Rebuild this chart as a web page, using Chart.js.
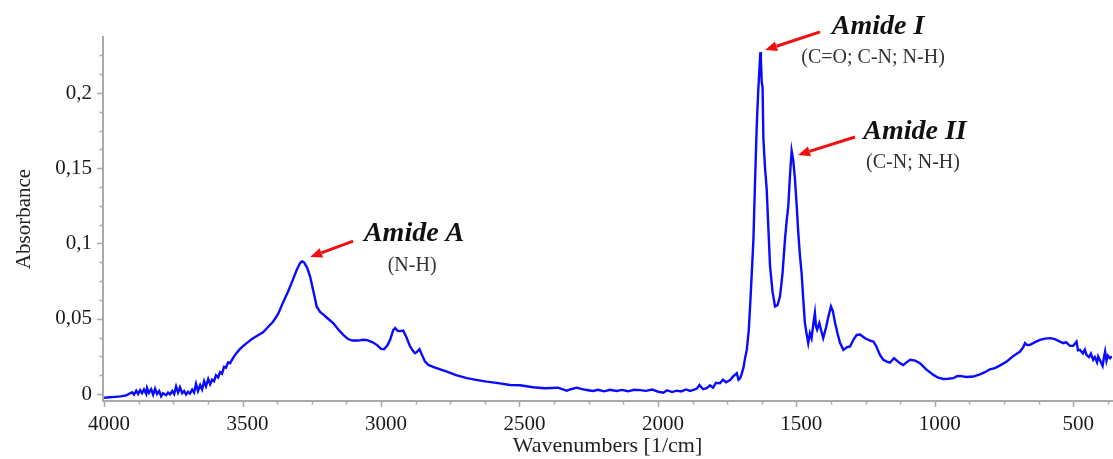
<!DOCTYPE html>
<html>
<head>
<meta charset="utf-8">
<script src="https://cdn.jsdelivr.net/npm/chart.js@4.4.0/dist/chart.umd.min.js"></script>
<style>
  html, body { margin: 0; padding: 0; background: #fff; }
  #wrap { width: 1113px; height: 459px; }
</style>
</head>
<body>
<div id="wrap"><canvas id="ftir" width="1113" height="459"></canvas></div>
<script>
// spectrum (wavenumber in 1/cm, absorbance)
const wavenumbers = [
  4000, 3980, 3960, 3940, 3920, 3906, 3899, 3892, 3884, 3877, 3870, 3863, 3856, 3848, 3845, 3838,
  3830, 3823, 3816, 3809, 3801, 3794, 3787, 3776, 3769, 3762, 3754, 3747, 3740, 3733, 3726, 3718,
  3711, 3704, 3697, 3690, 3682, 3675, 3668, 3661, 3653, 3646, 3639, 3632, 3624, 3617, 3610, 3603,
  3596, 3588, 3581, 3574, 3567, 3560, 3552, 3545, 3534, 3523, 3509, 3494, 3484, 3466, 3444, 3426,
  3408, 3390, 3372, 3354, 3336, 3318, 3303, 3292, 3285, 3278, 3267, 3256, 3245, 3232, 3220, 3208,
  3191, 3172, 3155, 3136, 3119, 3104, 3083, 3065, 3050, 3032, 3014, 3000, 2989, 2978, 2967, 2956,
  2949, 2940, 2931, 2920, 2909, 2895, 2884, 2877, 2870, 2861, 2852, 2841, 2829, 2805, 2762, 2729,
  2690, 2657, 2618, 2577, 2534, 2498, 2451, 2408, 2361, 2343, 2329, 2317, 2293, 2274, 2252, 2234,
  2216, 2194, 2173, 2149, 2129, 2108, 2086, 2064, 2043, 2021, 1999, 1980, 1967, 1949, 1932, 1916,
  1898, 1884, 1872, 1859, 1850, 1837, 1824, 1812, 1801, 1790, 1776, 1765, 1754, 1739, 1729, 1715,
  1709, 1703, 1698, 1691, 1685, 1679, 1672, 1667, 1661, 1655, 1649, 1643, 1638, 1634, 1630, 1628,
  1625, 1622, 1619, 1613, 1607, 1601, 1595, 1586, 1577, 1568, 1559, 1550, 1541, 1535, 1529, 1523,
  1517, 1511, 1505, 1499, 1493, 1487, 1481, 1475, 1469, 1463, 1457, 1451, 1445, 1439, 1433, 1429,
  1425, 1417, 1410, 1403, 1393, 1384, 1375, 1368, 1360, 1351, 1342, 1330, 1318, 1306, 1294, 1282,
  1270, 1252, 1234, 1222, 1212, 1198, 1186, 1173, 1162, 1147, 1136, 1126, 1114, 1102, 1089, 1071,
  1053, 1032, 1005, 988, 969, 952, 933, 920, 909, 887, 861, 837, 819, 801, 783, 764,
  740, 718, 692, 681, 674, 667, 656, 638, 620, 602, 584, 566, 548, 536, 526, 512,
  500, 488, 483, 476, 465, 458, 452, 443, 436, 428, 422, 414, 410, 403, 394, 389,
  385, 380, 375, 367, 360
];
const absorbance = [
  -0.0025, -0.0022, -0.0019, -0.0016, -0.0009, 0.0005, 0.0011, -0.0004, 0.0022, 0.0000, 0.0026, 0.0006, 0.0030, 0.0000, 0.0040, 0.0008,
  0.0032, -0.0005, 0.0035, 0.0000, 0.0020, -0.0015, 0.0005, -0.0008, 0.0010, -0.0002, 0.0020, 0.0000, 0.0050, 0.0010, 0.0045, 0.0005,
  0.0020, -0.0003, 0.0015, 0.0003, 0.0030, 0.0010, 0.0068, 0.0020, 0.0060, 0.0030, 0.0085, 0.0050, 0.0100, 0.0065, 0.0095, 0.0085,
  0.0125, 0.0110, 0.0145, 0.0135, 0.0180, 0.0175, 0.0210, 0.0205, 0.0240, 0.0270, 0.0300, 0.0325, 0.0340, 0.0365, 0.0390, 0.0410,
  0.0445, 0.0480, 0.0530, 0.0607, 0.0680, 0.0760, 0.0830, 0.0870, 0.0882, 0.0875, 0.0840, 0.0780, 0.0690, 0.0580, 0.0545, 0.0527,
  0.0500, 0.0470, 0.0430, 0.0393, 0.0365, 0.0355, 0.0355, 0.0360, 0.0358, 0.0345, 0.0325, 0.0300, 0.0298, 0.0320, 0.0360, 0.0425,
  0.0438, 0.0420, 0.0418, 0.0422, 0.0380, 0.0316, 0.0285, 0.0271, 0.0280, 0.0298, 0.0260, 0.0215, 0.0193, 0.0175, 0.0149, 0.0125,
  0.0105, 0.0094, 0.0082, 0.0072, 0.0060, 0.0058, 0.0045, 0.0038, 0.0042, 0.0030, 0.0022, 0.0030, 0.0042, 0.0032, 0.0025, 0.0020,
  0.0028, 0.0018, 0.0028, 0.0020, 0.0027, 0.0018, 0.0028, 0.0026, 0.0021, 0.0030, 0.0015, 0.0009, 0.0025, 0.0013, 0.0022, 0.0017,
  0.0030, 0.0020, 0.0027, 0.0036, 0.0060, 0.0032, 0.0038, 0.0058, 0.0042, 0.0075, 0.0071, 0.0095, 0.0078, 0.0093, 0.0115, 0.0138,
  0.0095, 0.0105, 0.0130, 0.0175, 0.0240, 0.0293, 0.0420, 0.0582, 0.0800, 0.1027, 0.1420, 0.1782, 0.2000, 0.2138, 0.2271, 0.2220,
  0.2071, 0.2040, 0.1693, 0.1500, 0.1360, 0.1100, 0.0849, 0.0680, 0.0582, 0.0590, 0.0649, 0.0800, 0.1027, 0.1150, 0.1249, 0.1450,
  0.1616, 0.1550, 0.1427, 0.1260, 0.1071, 0.0920, 0.0804, 0.0630, 0.0471, 0.0400, 0.0338, 0.0404, 0.0370, 0.0460, 0.0538, 0.0450,
  0.0427, 0.0471, 0.0420, 0.0371, 0.0440, 0.0516, 0.0582, 0.0550, 0.0471, 0.0400, 0.0338, 0.0293, 0.0310, 0.0316, 0.0360, 0.0393,
  0.0395, 0.0370, 0.0355, 0.0349, 0.0320, 0.0260, 0.0227, 0.0215, 0.0209, 0.0238, 0.0220, 0.0205, 0.0193, 0.0210, 0.0227, 0.0222,
  0.0204, 0.0165, 0.0127, 0.0108, 0.0100, 0.0101, 0.0105, 0.0118, 0.0120, 0.0113, 0.0116, 0.0130, 0.0145, 0.0164, 0.0172, 0.0190,
  0.0216, 0.0250, 0.0282, 0.0310, 0.0338, 0.0325, 0.0327, 0.0345, 0.0360, 0.0368, 0.0371, 0.0365, 0.0348, 0.0338, 0.0345, 0.0320,
  0.0320, 0.0348, 0.0290, 0.0293, 0.0270, 0.0295, 0.0260, 0.0245, 0.0268, 0.0227, 0.0245, 0.0210, 0.0249, 0.0222, 0.0187, 0.0245,
  0.0282, 0.0220, 0.0255, 0.0238, 0.0250
];

const xTickValues = [4000, 3500, 3000, 2500, 2000, 1500, 1000, 500];
const yTickValues = [0, 0.05, 0.1, 0.15, 0.2];
const yTickLabels = ['0', '0,05', '0,1', '0,15', '0,2'];

// peak labels: arrow tip (wavenumber, absorbance)
const peakTitles = ['Amide A', 'Amide I', 'Amide II'];
const peakNotes  = ['(N-H)', '(C=O; C-N; N-H)', '(C-N; N-H)'];
const peakWn     = [3256, 1613, 1494];
const peakAbs    = [0.091, 0.2286, 0.1588];

const AXIS_GREY = '#a9a9a9';
const SERIF = '"Liberation Serif", "Times New Roman", serif';

// minor + major tick marks, drawn outside the plot
const tickMarks = {
  id: 'tickMarks',
  afterDraw(chart) {
    const { ctx, chartArea: a } = chart;
    const xs = chart.scales.x, ys = chart.scales.y;
    ctx.save();
    ctx.strokeStyle = AXIS_GREY;
    ctx.lineWidth = 1.5;
    ctx.beginPath();
    for (let v = 375; v <= 4000; v += 125) {
      if (v < xs.min || v > xs.max) continue;
      const px = Math.round(xs.getPixelForValue(v)) + 0.5;
      const len = v % 500 === 0 ? 6 : 3.5;
      ctx.moveTo(px, a.bottom);
      ctx.lineTo(px, a.bottom + len);
    }
    for (let i = 0; i <= 19; i++) {
      const v = i * 0.0125;
      if (v > ys.max) break;
      const py = Math.round(ys.getPixelForValue(v)) + 0.5;
      const len = i % 4 === 0 ? 6 : 3.5;
      ctx.moveTo(a.left, py);
      ctx.lineTo(a.left - len, py);
    }
    ctx.stroke();
    ctx.restore();
  }
};

const annoLayout = [
  { tail: [43, -16], titleDx: 104, noteDx: 102 },
  { tail: [55, -18], titleDx: 113, noteDx: 108 },
  { tail: [57, -18], titleDx: 117, noteDx: 115 },
];

const peakLabels = {
  id: 'peakLabels',
  afterDatasetsDraw(chart) {
    const { ctx } = chart;
    const xs = chart.scales.x, ys = chart.scales.y;
    ctx.save();
    peakTitles.forEach((t, i) => {
      const tx = xs.getPixelForValue(peakWn[i]);
      const ty = ys.getPixelForValue(peakAbs[i]);
      const L = annoLayout[i];
      const sx = tx + L.tail[0], sy = ty + L.tail[1];
      const ang = Math.atan2(ty - sy, tx - sx);
      const head = 12, half = 5;
      const bx = tx - head * Math.cos(ang), by = ty - head * Math.sin(ang);

      ctx.strokeStyle = '#f01010';
      ctx.fillStyle = '#f01010';
      ctx.lineWidth = 3;
      ctx.beginPath();
      ctx.moveTo(sx, sy);
      ctx.lineTo(bx, by);
      ctx.stroke();
      ctx.beginPath();
      ctx.moveTo(tx, ty);
      ctx.lineTo(bx + half * Math.sin(ang), by - half * Math.cos(ang));
      ctx.lineTo(bx - half * Math.sin(ang), by + half * Math.cos(ang));
      ctx.closePath();
      ctx.fill();

      ctx.textAlign = 'center';
      ctx.textBaseline = 'alphabetic';
      ctx.fillStyle = '#111';
      ctx.font = 'italic bold 28px ' + SERIF;
      ctx.fillText(t, tx + L.titleDx, ty - 16);
      ctx.fillStyle = '#333';
      ctx.font = '20px ' + SERIF;
      ctx.fillText(peakNotes[i], tx + L.noteDx, ty + 13.5);
    });
    ctx.restore();
  }
};

new Chart(document.getElementById('ftir'), {
  type: 'line',
  data: {
    datasets: [{
      data: wavenumbers.map((w, i) => ({ x: w, y: absorbance[i] })),
      borderColor: '#0a0aff',
      borderWidth: 2.4,
      pointRadius: 0,
      tension: 0,
      fill: false,
    }]
  },
  options: {
    responsive: false,
    animation: false,
    events: [],
    layout: { padding: { top: 37, right: 1, left: 0, bottom: 0 } },
    plugins: { legend: { display: false }, tooltip: { enabled: false } },
    scales: {
      x: {
        type: 'linear',
        reverse: true,
        min: 360,
        max: 4004,
        afterFit: s => { s.height = 58; },
        afterBuildTicks: s => { s.ticks = xTickValues.map(v => ({ value: v })); },
        grid: { display: false },
        border: { display: true, color: AXIS_GREY, width: 2 },
        ticks: {
          color: '#1a1a1a',
          font: { family: SERIF, size: 21 },
          padding: 3,
          labelOffset: 5,
          maxRotation: 0,
          callback: v => String(v),
        },
        title: {
          display: true,
          text: 'Wavenumbers [1/cm]',
          color: '#222',
          font: { family: SERIF, size: 22 },
          padding: { top: 0, bottom: 0 },
        },
      },
      y: {
        min: -0.00465,
        max: 0.2372,
        afterFit: s => { s.width = 103; },
        afterBuildTicks: s => { s.ticks = yTickValues.map(v => ({ value: v })); },
        grid: { display: false },
        border: { display: true, color: AXIS_GREY, width: 2 },
        ticks: {
          color: '#1a1a1a',
          font: { family: SERIF, size: 21 },
          padding: 3,
          callback: v => {
            const i = yTickValues.findIndex(t => Math.abs(t - v) < 1e-9);
            return i >= 0 ? yTickLabels[i] : '';
          },
        },
        title: {
          display: true,
          text: 'Absorbance',
          color: '#222',
          font: { family: SERIF, size: 21 },
          padding: { top: 12, bottom: 0 },
        },
      },
    },
  },
  plugins: [tickMarks, peakLabels],
});
</script>
</body>
</html>
